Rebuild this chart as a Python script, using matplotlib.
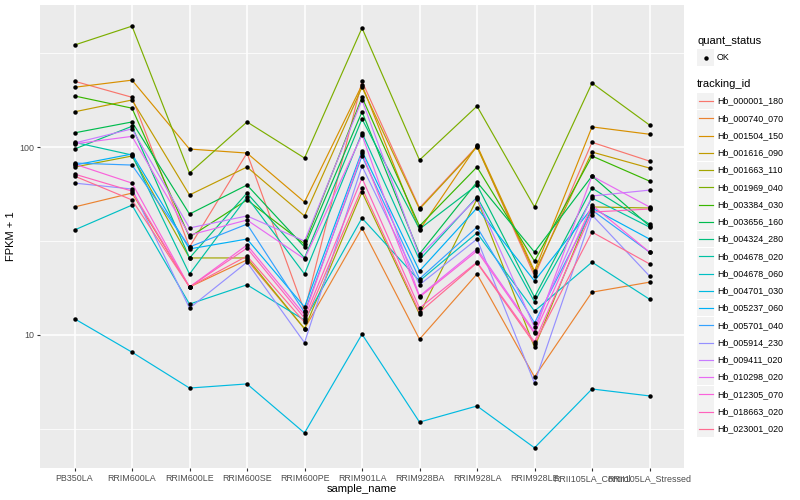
import numpy as np
import matplotlib.pyplot as plt
from matplotlib.patches import Rectangle
from matplotlib.lines import Line2D
from matplotlib.ticker import FixedLocator, NullFormatter

plt.rcParams['font.family'] = ['Liberation Sans', 'DejaVu Sans']

samples = ['PB350LA', 'RRIM600LA', 'RRIM600LE', 'RRIM600SE', 'RRIM600PE', 'RRIM901LA',
           'RRIM928BA', 'RRIM928LA', 'RRIM928LE', 'RRII105LA_Control', 'RRII105LA_Stressed']

tracking_ids = ['Hb_000001_180', 'Hb_000740_070', 'Hb_001504_150', 'Hb_001616_090',
                'Hb_001663_110', 'Hb_001969_040', 'Hb_003384_030', 'Hb_003656_160',
                'Hb_004324_280', 'Hb_004678_020', 'Hb_004678_060', 'Hb_004701_030',
                'Hb_005237_060', 'Hb_005701_040', 'Hb_005914_230', 'Hb_009411_020',
                'Hb_010298_020', 'Hb_012305_070', 'Hb_018663_020', 'Hb_023001_020']

# ggplot hue palette, 20 levels
colors = ['#F8766D', '#EA8331', '#D89000', '#C09B00', '#A3A500', '#7CAE00', '#39B600',
          '#00BB4E', '#00BF7D', '#00C1A3', '#00BFC4', '#00BAE0', '#00B0F6', '#35A2FF',
          '#9590FF', '#C77CFF', '#E76BF3', '#FA62DB', '#FF62BC', '#FF6C91']

# FPKM + 1 per sample
hb_000001_180 = [224, 184, 29.4, 92.9, 13.4, 224, 47.4, 101, 20.6, 106, 84.2]
hb_000740_070 = [48.0, 56.9, 18.0, 25.1, 10.8, 37.1, 9.5, 21.1, 5.98, 16.9, 19.1]
hb_001504_150 = [208, 227, 97.6, 92.9, 51.0, 214, 36.2, 102, 21.9, 128, 117]
hb_001616_090 = [154, 178, 55.6, 78.3, 43.0, 208, 46.8, 100, 21.4, 94.1, 77.3]
hb_001663_110 = [78.3, 89.6, 25.7, 25.7, 10.8, 57.6, 12.9, 52.9, 8.6, 48.0, 47.4]
hb_001969_040 = [349, 440, 72.7, 136, 87.4, 430, 85.3, 165, 48.0, 219, 131]
hb_003384_030 = [187, 161, 33.2, 52.3, 30.5, 184, 38.0, 78.3, 24.7, 89.6, 65.9]
hb_003656_160 = [119, 136, 44.0, 62.8, 29.4, 154, 27.0, 65.1, 27.6, 70.1, 38.0]
hb_004324_280 = [97.6, 129, 25.7, 56.9, 25.7, 141, 36.6, 62.8, 15.9, 60.5, 38.9]
hb_004678_020 = [106, 90.7, 21.1, 54.2, 21.1, 119, 25.1, 54.2, 15.0, 53.5, 37.5]
hb_004678_060 = [36.2, 49.1, 14.6, 18.5, 12.0, 41.9, 19.4, 34.9, 13.4, 24.4, 15.5]
hb_004701_030 = [12.2, 8.1, 5.22, 5.49, 3.01, 10.1, 3.44, 4.19, 2.51, 5.16, 4.74]
hb_005237_060 = [80.2, 91.8, 28.7, 32.4, 14.1, 95.2, 21.9, 47.4, 19.4, 47.4, 32.4]
hb_005701_040 = [82.2, 80.2, 29.4, 38.9, 13.2, 89.6, 19.9, 37.5, 11.6, 46.2, 27.6]
hb_005914_230 = [64.3, 59.8, 13.9, 24.4, 9.1, 79.2, 18.5, 32.4, 5.55, 43.5, 20.6]
hb_009411_020 = [105, 125, 37.1, 43.0, 31.6, 178, 26.3, 53.5, 11.0, 54.9, 59.0]
hb_010298_020 = [104, 114, 34.0, 40.9, 25.4, 116, 16.1, 28.7, 10.4, 70.1, 48.0]
hb_012305_070 = [81.2, 64.3, 18.0, 30.1, 12.8, 92.9, 15.9, 28.0, 10.2, 49.1, 27.6]
hb_018663_020 = [71.8, 58.3, 18.0, 29.0, 12.3, 68.4, 13.9, 24.4, 9.2, 45.1, 46.8]
hb_023001_020 = [70.1, 52.3, 18.0, 26.3, 11.7, 60.5, 13.2, 24.2, 8.96, 35.3, 23.9]

series = [hb_000001_180, hb_000740_070, hb_001504_150, hb_001616_090, hb_001663_110,
          hb_001969_040, hb_003384_030, hb_003656_160, hb_004324_280, hb_004678_020,
          hb_004678_060, hb_004701_030, hb_005237_060, hb_005701_040, hb_005914_230,
          hb_009411_020, hb_010298_020, hb_012305_070, hb_018663_020, hb_023001_020]

W, H = 800, 500
fig = plt.figure(figsize=(8, 5), dpi=100)
ax = fig.add_axes([40 / W, 1 - 468 / H, 644 / W, 463 / H])
ax.set_facecolor('#EBEBEB')

x = np.arange(len(samples))
for vals, col in zip(series, colors):
    ax.plot(x, vals, color=col, lw=0.85, zorder=3)
for vals in series:
    ax.plot(x, vals, 'o', color='black', ms=3.2, mew=0, zorder=4)

ax.set_yscale('log')
ax.set_ylim(1.96, 570)
ax.set_xlim(-0.6, len(samples) - 0.4)

ax.yaxis.set_major_locator(FixedLocator([10, 100]))
ax.set_yticklabels(['10', '100'])
ax.yaxis.set_minor_locator(FixedLocator([10 ** 0.5, 10 ** 1.5, 10 ** 2.5]))
ax.yaxis.set_minor_formatter(NullFormatter())
ax.set_xticks(x)
ax.set_xticklabels(samples)

ax.grid(True, which='major', color='white', lw=1.1)
ax.grid(True, which='minor', axis='y', color='white', lw=0.55)
ax.set_axisbelow(True)
for s in ax.spines.values():
    s.set_visible(False)

ax.tick_params(which='major', length=2.2, width=0.8, color='#333333', pad=2,
               labelsize=6.4, labelcolor='#4D4D4D')
ax.tick_params(which='minor', length=0)
ax.set_xlabel('sample_name', fontsize=8, labelpad=1)
ax.set_ylabel('FPKM + 1', fontsize=8, labelpad=2)


def fpos(px, py):
    return px / W, 1 - py / H


# legends drawn in figure pixels, ggplot style
fig.text(*fpos(697, 41), 'quant_status', fontsize=8, va='center', ha='left')
fig.patches.append(Rectangle(fpos(697, 66), 17 / W, 17 / H, transform=fig.transFigure,
                             facecolor='#F2F2F2', edgecolor='none'))
fig.lines.append(Line2D([705.5 / W], [1 - 57.5 / H], marker='o', color='black', ms=3.2,
                        mew=0, transform=fig.transFigure))
fig.text(*fpos(717, 57.5), 'OK', fontsize=6.4, va='center', ha='left')

fig.text(*fpos(697, 84), 'tracking_id', fontsize=8, va='center', ha='left')
step = 17.25
for i, (tid, col) in enumerate(zip(tracking_ids, colors)):
    cy = 101 + i * step
    fig.patches.append(Rectangle(fpos(697, cy + 8.4), 17 / W, 16.8 / H,
                                 transform=fig.transFigure, facecolor='#F2F2F2',
                                 edgecolor='none'))
    fig.lines.append(Line2D([698.5 / W, 712.5 / W], [1 - cy / H] * 2, color=col, lw=0.85,
                            transform=fig.transFigure))
    fig.text(*fpos(717, cy), tid, fontsize=6.4, va='center', ha='left')

fig.savefig('out.png', dpi=100)
